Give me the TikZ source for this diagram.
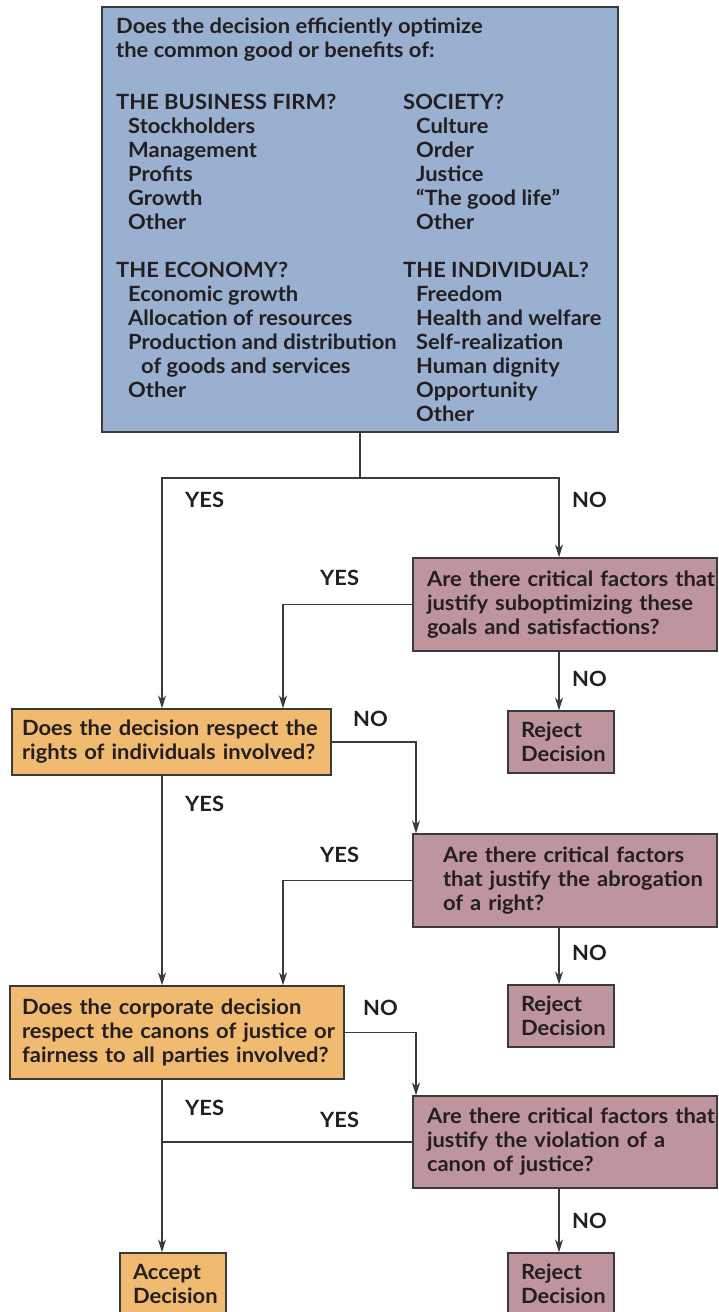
\documentclass[tikz,border=0pt]{standalone}
\usepackage{fontspec}
\setmainfont{Lato}[FakeStretch=1.045]
\usetikzlibrary{arrows.meta}
\definecolor{blueF}{HTML}{9AB0D0}
\definecolor{orF}{HTML}{F0BA70}
\definecolor{mvF}{HTML}{BE949D}
\definecolor{edge}{HTML}{3A3A3A}
\definecolor{ink}{HTML}{231F20}
\tikzset{
  txt/.style={font=\bfseries\fontsize{21}{24}\selectfont, text=ink},
  base/.style={txt, draw=edge, line width=1.3pt, align=left, inner ysep=0pt},
  bluebox/.style={base, fill=blueF},
  orbox/.style={base, fill=orF},
  mvbox/.style={base, fill=mvF},
  lbl/.style={txt, anchor=base west, inner sep=0pt},
  conn/.style={draw=edge, line width=1.2pt},
  arr/.style={-{Stealth[length=13pt,width=8pt,inset=4pt]}},
}
\begin{document}
\begin{tikzpicture}[x=1pt,y=-1pt]
\useasboundingbox (0,0) rectangle (718,1312);
% top box
\node[bluebox, minimum width=516pt, minimum height=425pt] (top) at (360,219.5) {};
\foreach \x/\y/\t [count=\i] in {
 116/33/Does the decision efficiently optimize,
 116/57/the common good or benefits of:,
 116/109/THE BUSINESS FIRM?,
 128/133/Stockholders,
 128/157/Management,
 128/181/Profits,
 128/205/Growth,
 128/229/Other,
 116/277/THE ECONOMY?,
 128/301/Economic growth,
 128/325/Allocation of resources,
 128/349/Production and distribution,
 141/373/of goods and services,
 128/397/Other,
 403/109/SOCIETY?,
 416/133/Culture,
 416/157/Order,
 416/181/Justice,
 416/205/“The good life”,
 416/229/Other,
 403/277/THE INDIVIDUAL?,
 416/301/Freedom,
 416/325/Health and welfare,
 416/349/Self-realization,
 416/373/Human dignity,
 416/397/Opportunity,
 416/421/Other}
 \node[lbl] (t\i) at (\x,\y) {\t};

% decision boxes
\node[orbox, minimum width=319pt, minimum height=66pt, inner xsep=10pt, text width=299pt] (or1) at (171.5,742)
 {\mbox{Does the decision respect the}\\\mbox{rights of individuals involved?}};
\node[orbox, minimum width=334pt, minimum height=93pt, inner xsep=12pt, text width=310pt] (or2) at (177,1032.5)
 {\mbox{Does the corporate decision}\\\mbox{respect the canons of justice or}\\\mbox{fairness to all parties involved?}};
\node[orbox, minimum width=106pt, minimum height=62pt, inner xsep=13pt, text width=80pt] (acc) at (173,1284)
 {\mbox{Accept}\\\mbox{Decision}};

\node[mvbox, minimum width=304pt, minimum height=93pt, inner xsep=14pt, text width=276pt] (m1) at (565,604.5)
 {\mbox{Are there critical factors that}\\\mbox{justify suboptimizing these}\\\mbox{goals and satisfactions?}};
\node[mvbox, minimum width=304pt, minimum height=93pt, inner xsep=30pt, text width=244pt] (m2) at (565,880.5)
 {\mbox{Are there critical factors}\\\mbox{that justify the abrogation}\\\mbox{of a right?}};
\node[mvbox, minimum width=304pt, minimum height=92pt, inner xsep=14pt, text width=276pt] (m3) at (565,1142)
 {\mbox{Are there critical factors that}\\\mbox{justify the violation of a}\\\mbox{canon of justice?}};

\node[mvbox, minimum width=106pt, minimum height=62pt, inner xsep=13pt, text width=80pt] (r1) at (561,742)
 {\mbox{Reject}\\\mbox{Decision}};
\node[mvbox, minimum width=106pt, minimum height=62pt, inner xsep=13pt, text width=80pt] (r2) at (561,1016)
 {\mbox{Reject}\\\mbox{Decision}};
\node[mvbox, minimum width=106pt, minimum height=62pt, inner xsep=13pt, text width=80pt] (r3) at (561,1284)
 {\mbox{Reject}\\\mbox{Decision}};

% column coordinates
\coordinate (split) at (360,478);
\coordinate (cL) at (162,0);
\coordinate (cM) at (283,0);
\coordinate (cN) at (416,0);
\coordinate (cR) at (559,0);

% connectors
\draw[conn] (top.south) -- (split);
\draw[conn,arr] (split) -| (cL |- or1.north);
\draw[conn,arr] (split) -| (cR |- m1.north);
\draw[conn,arr] (m1.west) -| (cM |- or1.north);
\draw[conn,arr] (m1.south -| cR) -- (r1.north -| cR);
\draw[conn,arr] (or1.east) -| (cN |- m2.north);
\draw[conn,arr] (or1.south -| cL) -- (or2.north -| cL);
\draw[conn,arr] (m2.west) -| (cM |- or2.north);
\draw[conn,arr] (m2.south -| cR) -- (r2.north -| cR);
\draw[conn,arr] (or2.east) -| (cN |- m3.north);
\draw[conn,arr] (or2.south -| cL) -- (acc.north -| cL);
\draw[conn] (m3.west) -- (m3.west -| cL);
\draw[conn,arr] (m3.south -| cR) -- (r3.north -| cR);

% labels
\node[lbl] (y1) at (185,507) {YES};
\node[lbl] (n1) at (572,507) {NO};
\node[lbl] (y2) at (320,585) {YES};
\node[lbl] (n2) at (572,686) {NO};
\node[lbl] (n3) at (353,726) {NO};
\node[lbl] (y3) at (185,811) {YES};
\node[lbl] (y4) at (320,862) {YES};
\node[lbl] (n4) at (572,960) {NO};
\node[lbl] (n5) at (363,1015) {NO};
\node[lbl] (y5) at (185,1115) {YES};
\node[lbl] (y6) at (320,1127) {YES};
\node[lbl] (n6) at (572,1228) {NO};
\end{tikzpicture}
\end{document}
